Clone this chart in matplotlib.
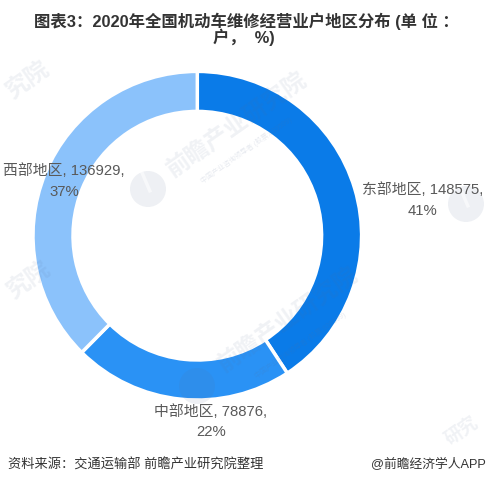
import matplotlib
matplotlib.use('Agg')
import matplotlib.pyplot as plt
from matplotlib.patches import Circle

regions = ['东部地区', '中部地区', '西部地区']
values = [148575, 78876, 136929]
percents = ['41%', '22%', '37%']
colors = ['#0A7BE8', '#2A92F5', '#8BC2FB']
title_lines = ['图表3：2020年全国机动车维修经营业户地区分布 (单 位 ：', '户，  %)']
source = '资料来源：交通运输部 前瞻产业研究院整理'
credit = '@前瞻经济学人APP'
watermark = '前瞻产业研究院'
watermark_sub = '中国产业咨询领导者 (股票:839599)'

plt.rcParams['font.family'] = ['Liberation Sans', 'Noto Sans CJK SC']

W, H = 487, 485
fig = plt.figure(figsize=(W / 100, H / 100), dpi=100, facecolor='white')
ax = fig.add_axes([0, 0, 1, 1])

def Y(py):
    return H - py

ax.pie(values, startangle=90, counterclock=False, colors=colors,
       center=(197.3, Y(236.7)), radius=164.3,
       wedgeprops=dict(width=40, edgecolor='white', linewidth=2.5, zorder=1))
ax.set_xlim(0, W)
ax.set_ylim(0, H)
ax.set_aspect('auto')
ax.axis('off')

# faint watermarks
wm_color = '#5A6E96'
wm_alpha = 0.09
def mark(txt, x, y, fs=17, ha='center'):
    ax.text(x, Y(y), txt, fontsize=fs, color=wm_color, alpha=wm_alpha, rotation=35, rotation_mode='anchor',
            ha=ha, va='center', fontweight='bold', zorder=2)
def sub(txt, x, y):
    ax.text(x, Y(y), txt, fontsize=5, color=wm_color, alpha=0.14, rotation=35, rotation_mode='anchor',
            ha='center', va='center', zorder=2)
def logo(x, y, r=18, slash=True):
    ax.add_patch(Circle((x, Y(y)), r, facecolor=wm_color, edgecolor='none', alpha=0.1, zorder=2))
    if slash:
        ax.plot([x - r * 0.35, x + r * 0.1], [Y(y - r * 0.95), Y(y + r * 0.1)], color='white', alpha=0.55, lw=2.5, zorder=2)

mark(watermark, 237, 125)
sub(watermark_sub, 246, 150)
logo(148, 190)
mark(watermark, 288, 320)
sub(watermark_sub, 300, 345)
logo(197, 387, slash=False)
mark('究院', 27, 80)
mark('究院', 28, 280)
logo(466, 205, 18)
mark('研究', 462, 432, fs=13)

tc = '#333333'
ax.text(246.5, Y(21), title_lines[0], fontsize=11.8, fontweight='bold', color=tc, ha='center', va='center', zorder=4)
ax.text(243.5, Y(37.5), title_lines[1], fontsize=11.8, fontweight='bold', color=tc, ha='center', va='center', zorder=4)

lc = '#595959'
lab = [(423, 190), (211, 412), (64, 171)]
lab2 = [(423, 211), (211, 432), (64, 192)]
for r, v, p, a, b in zip(regions, values, percents, lab, lab2):
    ax.text(a[0], Y(a[1]), f'{r}, {v},', fontsize=10.7, color=lc, ha='center', va='center', zorder=4)
    ax.text(b[0], Y(b[1]), p, fontsize=10.7, color=lc, ha='center', va='center', zorder=4)

ax.text(8, Y(465), source, fontsize=9.5, color='#333333', ha='left', va='center', zorder=4)
ax.text(486, Y(465), credit, fontsize=9.2, color='#333333', ha='right', va='center', zorder=4)

fig.savefig('out.png', dpi=100, facecolor='white')
